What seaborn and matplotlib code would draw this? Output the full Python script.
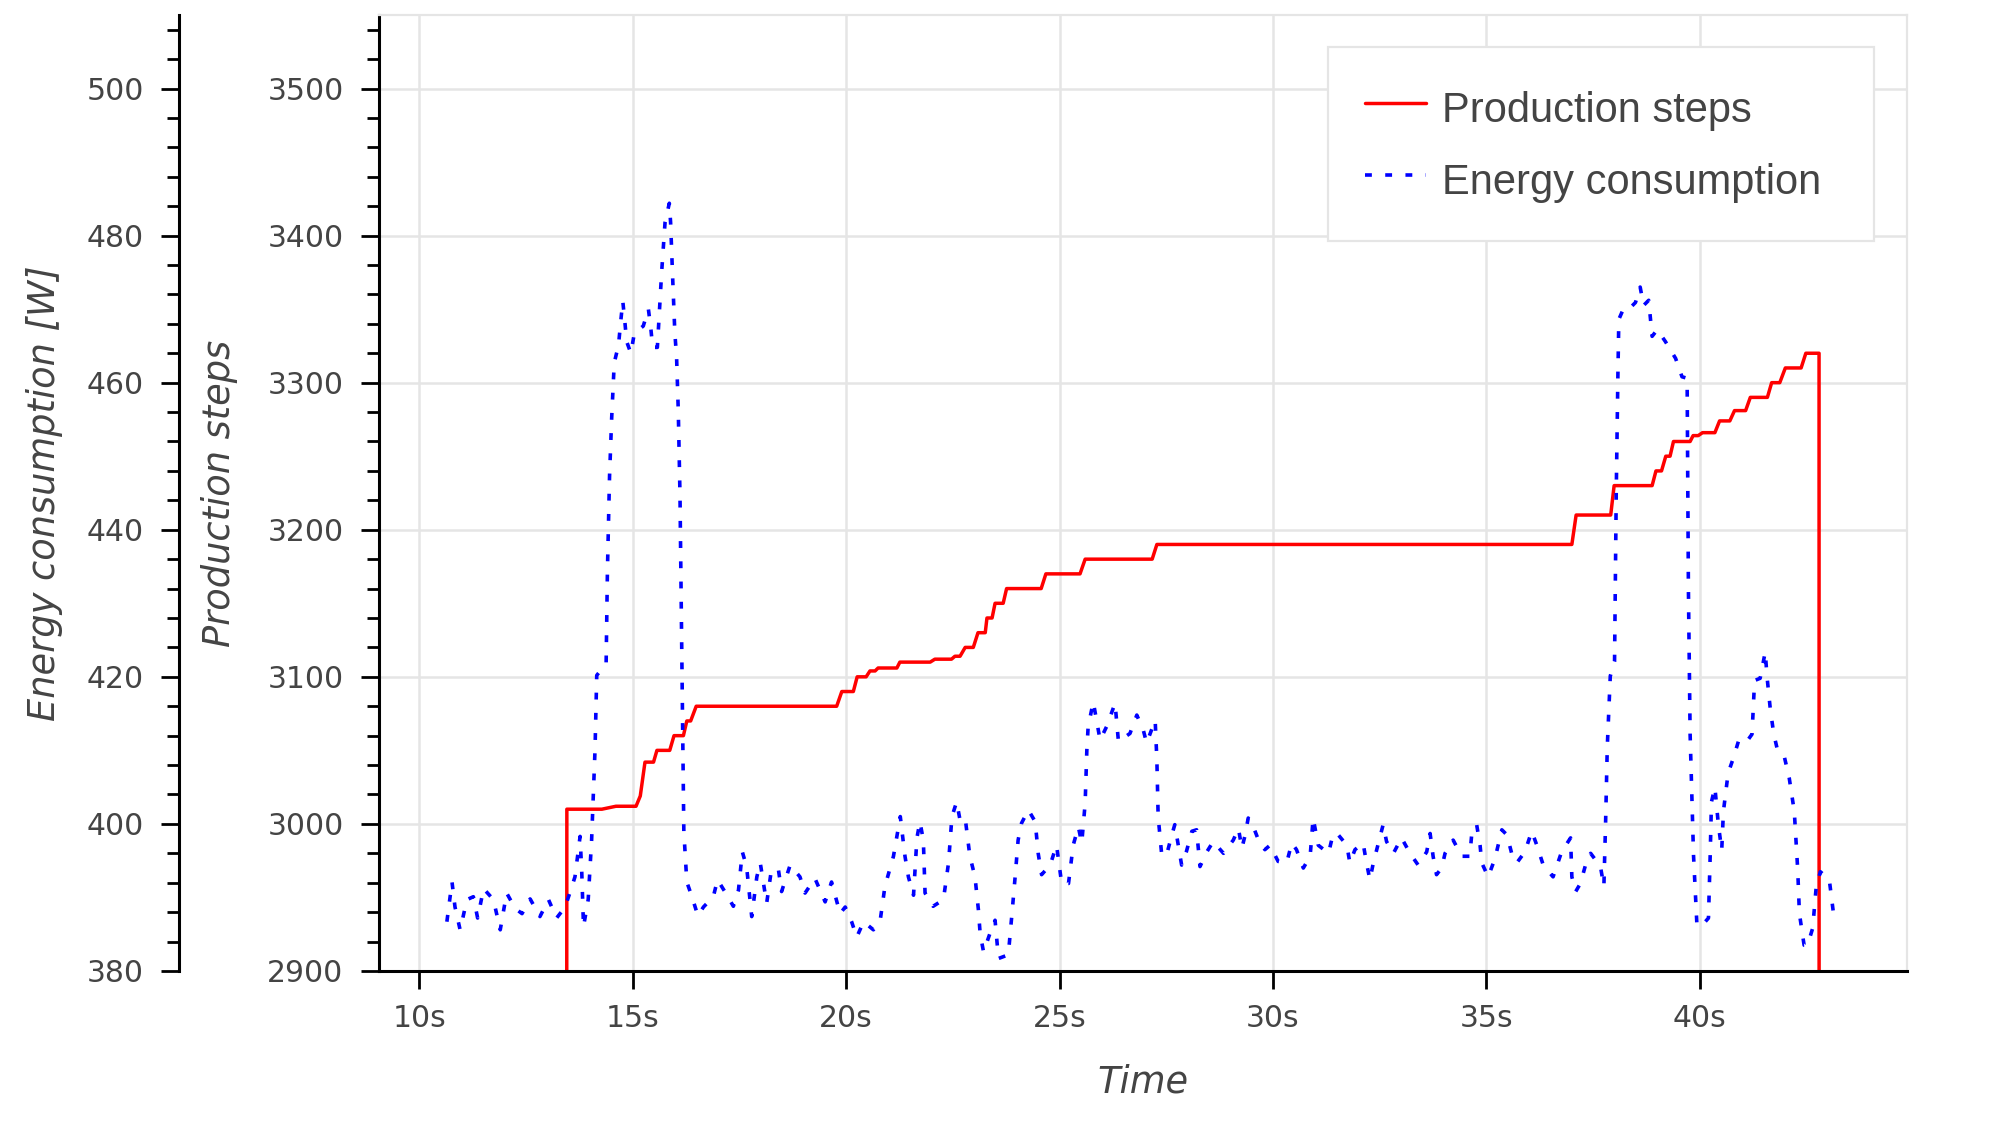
import matplotlib
matplotlib.use("Agg")
import matplotlib.pyplot as plt
from matplotlib.ticker import MultipleLocator, FixedLocator
import seaborn as sns
import pandas as pd

# Production step counter (seconds, steps)
steps_time = [13.40, 13.46, 14.28, 14.61, 15.08, 15.18, 15.29, 15.49, 15.57, 15.87,
              15.97, 16.19, 16.27, 16.36, 16.49, 19.78, 19.90, 20.17, 20.26, 20.47,
              20.56, 20.68, 20.75, 21.19, 21.26, 21.97, 22.08, 22.47, 22.55, 22.67,
              22.79, 22.98, 23.09, 23.26, 23.30, 23.42, 23.49, 23.68, 23.76, 24.57,
              24.68, 25.48, 25.60, 27.17, 27.28, 37.00, 37.10, 37.91, 37.99, 38.88,
              38.97, 39.10, 39.20, 39.30, 39.38, 39.77, 39.84, 39.96, 40.06, 40.35,
              40.46, 40.70, 40.81, 41.07, 41.18, 41.58, 41.68, 41.87, 42.00, 42.37,
              42.48, 42.79, 42.80]
steps_count = [0, 3010, 3010, 3012, 3012, 3019, 3042, 3042, 3050, 3050,
               3060, 3060, 3070, 3070, 3080, 3080, 3090, 3090, 3100, 3100,
               3104, 3104, 3106, 3106, 3110, 3110, 3112, 3112, 3114, 3114,
               3120, 3120, 3130, 3130, 3140, 3140, 3150, 3150, 3160, 3160,
               3170, 3170, 3180, 3180, 3190, 3190, 3210, 3210, 3230, 3230,
               3240, 3240, 3250, 3250, 3260, 3260, 3264, 3264, 3266, 3266,
               3274, 3274, 3281, 3281, 3290, 3290, 3300, 3300, 3310, 3310,
               3320, 3320, 0]

# Energy consumption samples (seconds, watts)
energy_time = [10.65, 10.77, 10.84, 10.96, 11.12, 11.27, 11.37, 11.51, 11.74, 11.90,
               12.05, 12.25, 12.41, 12.60, 12.83, 13.03, 13.22, 13.42, 13.54, 13.65,
               13.77, 13.81, 13.85, 13.96, 14.04, 14.12, 14.16, 14.38, 14.41, 14.46,
               14.51, 14.57, 14.67, 14.72, 14.77, 14.82, 14.86, 14.96, 15.04, 15.25,
               15.37, 15.43, 15.47, 15.58, 15.63, 15.68, 15.76, 15.86, 15.89, 15.94,
               15.99, 16.03, 16.07, 16.11, 16.14, 16.17, 16.20, 16.27, 16.39, 16.53,
               16.66, 16.89, 16.99, 17.17, 17.36, 17.48, 17.57, 17.67, 17.79, 17.91,
               17.99, 18.14, 18.24, 18.41, 18.49, 18.69, 18.92, 19.04, 19.27, 19.51,
               19.66, 19.86, 19.98, 20.13, 20.25, 20.41, 20.64, 20.80, 20.91, 21.11,
               21.27, 21.38, 21.46, 21.58, 21.66, 21.73, 21.81, 21.85, 22.04, 22.28,
               22.40, 22.48, 22.59, 22.67, 22.79, 22.90, 23.02, 23.10, 23.14, 23.22,
               23.37, 23.49, 23.57, 23.80, 23.88, 23.96, 24.03, 24.11, 24.27, 24.43,
               24.50, 24.58, 24.78, 24.93, 25.05, 25.21, 25.32, 25.44, 25.52, 25.60,
               25.64, 25.67, 25.79, 25.95, 26.10, 26.30, 26.38, 26.65, 26.81, 26.96,
               27.04, 27.24, 27.28, 27.31, 27.39, 27.50, 27.63, 27.70, 27.86, 27.97,
               28.10, 28.21, 28.29, 28.45, 28.60, 28.84, 29.07, 29.19, 29.27, 29.34,
               29.42, 29.54, 29.66, 29.81, 29.93, 30.12, 30.32, 30.44, 30.55, 30.71,
               30.87, 30.94, 31.06, 31.30, 31.41, 31.53, 31.73, 31.80, 31.92, 32.11,
               32.19, 32.27, 32.35, 32.47, 32.58, 32.66, 32.82, 33.01, 33.21, 33.40,
               33.60, 33.68, 33.75, 33.83, 33.95, 34.03, 34.22, 34.42, 34.61, 34.65,
               34.77, 34.85, 34.89, 35.04, 35.20, 35.36, 35.48, 35.59, 35.71, 35.90,
               36.06, 36.18, 36.33, 36.56, 36.76, 36.97, 37.00, 37.09, 37.20, 37.32,
               37.44, 37.67, 37.75, 37.79, 37.83, 37.90, 38.00, 38.04, 38.08, 38.10,
               38.22, 38.37, 38.49, 38.60, 38.68, 38.80, 38.88, 39.00, 39.19, 39.43,
               39.58, 39.70, 39.71, 39.73, 39.77, 39.85, 39.93, 40.05, 40.20, 40.24,
               40.27, 40.35, 40.43, 40.51, 40.55, 40.66, 40.78, 40.90, 41.06, 41.22,
               41.28, 41.41, 41.53, 41.57, 41.65, 41.73, 41.81, 41.97, 42.09, 42.21,
               42.29, 42.33, 42.44, 42.52, 42.64, 42.72, 42.82, 43.03, 43.15]
energy_w = [386.7, 392.1, 388.7, 385.6, 389.7, 390.1, 387.2, 391.2, 389.7, 385.6,
            390.6, 388.5, 387.8, 389.8, 387.4, 389.7, 387.2, 388.7, 390.8, 392.8,
            398.3, 393.3, 386.0, 389.7, 397.8, 410.1, 420.2, 421.8, 434.3, 447.3,
            455.2, 462.7, 465.1, 468.2, 471.1, 468.2, 465.6, 464.0, 466.7, 467.7,
            470.0, 467.2, 464.8, 464.8, 470.0, 475.0, 481.8, 484.4, 481.8, 474.0,
            466.7, 463.5, 456.2, 444.7, 429.1, 413.4, 399.0, 392.1, 390.1, 387.5,
            388.7, 390.1, 392.4, 390.7, 388.8, 391.0, 396.2, 394.2, 387.4, 392.8,
            394.7, 389.2, 393.3, 394.0, 390.8, 394.4, 392.8, 390.6, 392.6, 389.4,
            392.1, 387.8, 388.7, 386.7, 384.6, 386.7, 385.6, 386.9, 391.5, 395.6,
            401.0, 395.6, 392.8, 390.3, 398.1, 400.3, 397.8, 390.6, 388.8, 389.7,
            394.7, 401.0, 403.0, 400.5, 400.8, 395.6, 392.8, 388.3, 385.1, 382.6,
            385.1, 386.9, 381.7, 382.2, 387.4, 392.8, 397.8, 400.1, 401.9, 400.3,
            396.0, 393.1, 394.4, 397.1, 391.9, 391.9, 397.1, 399.6, 397.4, 402.8,
            410.1, 413.2, 416.6, 411.4, 413.2, 416.4, 411.2, 412.3, 414.8, 412.8,
            411.0, 414.1, 408.7, 401.0, 396.0, 395.6, 398.5, 399.9, 394.4, 396.2,
            399.0, 399.2, 394.2, 396.2, 397.6, 396.0, 397.8, 399.4, 396.7, 398.3,
            400.8, 399.6, 397.8, 396.5, 397.1, 394.9, 394.7, 397.4, 396.5, 394.0,
            395.6, 400.8, 397.1, 396.0, 398.7, 398.5, 397.1, 394.7, 396.5, 397.4,
            394.7, 392.4, 394.7, 397.4, 399.9, 397.6, 396.0, 398.1, 396.0, 394.4,
            396.2, 398.7, 395.6, 393.1, 394.0, 396.0, 397.8, 395.6, 395.6, 398.3,
            399.9, 397.1, 394.7, 392.8, 395.3, 399.2, 398.5, 396.0, 394.7, 396.2,
            399.0, 397.1, 394.4, 392.8, 396.2, 398.1, 392.8, 390.8, 391.9, 394.4,
            396.0, 394.2, 391.5, 400.1, 410.5, 420.1, 422.1, 445.2, 461.6, 468.6,
            470.2, 470.2, 470.9, 473.0, 470.5, 471.2, 466.3, 467.2, 465.6, 463.3,
            460.8, 460.6, 451.7, 432.0, 412.2, 395.7, 386.2, 386.2, 387.2, 395.7,
            403.0, 405.0, 400.0, 396.4, 401.7, 406.9, 408.9, 411.2, 410.9, 412.2,
            419.5, 419.8, 423.4, 420.1, 415.5, 412.2, 410.2, 409.3, 406.3, 401.7,
            393.8, 387.8, 383.5, 383.5, 385.8, 391.2, 393.5, 392.4, 386.8]

x_ticks = [10, 15, 20, 25, 30, 35, 40]
x_tick_labels = [f"{t}s" for t in x_ticks]

sns.set_theme(style="ticks")
plt.rcParams['font.family'] = ['DejaVu Sans']

text_grey = "#444444"
light = "#e5e5e5"

steps = pd.DataFrame({"time": steps_time, "steps": steps_count})
energy = pd.DataFrame({"time": energy_time, "power": energy_w})

fig = plt.figure(figsize=(20, 11.25), dpi=100)
ax = fig.add_axes([0.1895, 0.1369, 0.764, 0.8498])
ax2 = ax.twinx()

sns.lineplot(data=steps, x="time", y="steps", ax=ax, color="#ff0000", lw=2.5,
             estimator=None, sort=False, label="Production steps")
sns.lineplot(data=energy, x="time", y="power", ax=ax2, color="#0000ff", lw=2.6,
             estimator=None, sort=False, linestyle=(0, (1.9, 3.7)),
             label="Energy consumption")

ax.set_xlim(9.06, 44.85)
ax.set_ylim(2900, 3550)
ax2.set_ylim(380, 510)

# x axis
ax.xaxis.set_major_locator(FixedLocator(x_ticks))
ax.set_xticklabels(x_tick_labels)
ax.set_xlabel("Time", fontsize=26.5, style="italic", color=text_grey)
ax.xaxis.label.set_va("center")
ax.xaxis.set_label_coords(0.5, -0.116)

# production axis (inner)
ax.yaxis.set_major_locator(MultipleLocator(100))
ax.yaxis.set_minor_locator(MultipleLocator(20))
ax.set_ylabel("Production steps", fontsize=26.5, style="italic", color=text_grey)
ax.yaxis.label.set_va("center")
ax.yaxis.set_label_coords(-0.1047, 0.5)

# energy axis (outer, on the left)
ax2.yaxis.set_ticks_position("left")
ax2.yaxis.set_label_position("left")
ax2.spines["left"].set_position(("axes", -0.1309))
ax2.yaxis.set_major_locator(MultipleLocator(20))
ax2.yaxis.set_minor_locator(MultipleLocator(4))
ax2.set_ylabel("Energy consumption [W]", fontsize=26.5, style="italic", color=text_grey)
ax2.yaxis.label.set_va("center")
ax2.yaxis.set_label_coords(-0.2186, 0.5)

for a in (ax, ax2):
    a.tick_params(axis="both", which="major", length=13, width=2, direction="out",
                  color="black", labelsize=21.5, labelcolor=text_grey)
    a.tick_params(axis="y", which="minor", length=8.6, width=2, color="black")
    a.tick_params(axis="y", which="major", pad=12.5)
ax.tick_params(axis="x", which="major", pad=11)

for side in ("right", "top", "bottom"):
    ax2.spines[side].set_visible(False)
ax2.spines["left"].set_color("black")
ax2.spines["left"].set_linewidth(2.2)
for side in ("left", "bottom"):
    ax.spines[side].set_color("black")
    ax.spines[side].set_linewidth(2.2)
for side in ("right", "top"):
    ax.spines[side].set_color(light)
    ax.spines[side].set_linewidth(1.6)

ax.grid(True, color=light, lw=1.8)
ax.set_axisbelow(True)
ax2.grid(False)

# one legend for both axes, fixed-width box in the upper right
h1, l1 = ax.get_legend_handles_labels()
h2, l2 = ax2.get_legend_handles_labels()
ax.get_legend().remove()
ax2.get_legend().remove()
leg = ax2.legend(h1 + h2, l1 + l2, loc="upper left",
                 bbox_to_anchor=(0.621, 0.0, 0.3573, 0.9665), mode="expand",
                 borderaxespad=0,
                 prop={"family": "Liberation Sans", "size": 30},
                 frameon=True, fancybox=False, framealpha=1, edgecolor=light,
                 borderpad=0.89, labelspacing=0.57, handleheight=1.4,
                 handlelength=1.46, handletextpad=0.4)
leg.get_frame().set_linewidth(1.6)
for t in leg.get_texts():
    t.set_color(text_grey)

fig.savefig("out.png", dpi=100)
